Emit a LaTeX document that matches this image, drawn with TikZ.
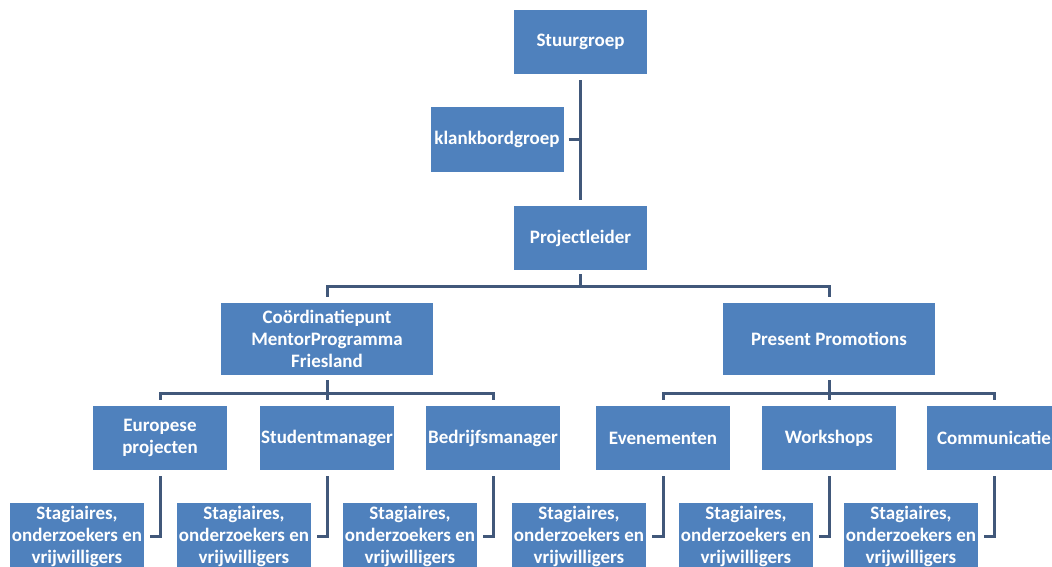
\documentclass[tikz,border=0pt]{standalone}
\usepackage{fontspec}
\setmainfont{Carlito}
\definecolor{boxblue}{HTML}{4F81BD}
\definecolor{linecol}{HTML}{41587A}
\begin{document}
\begin{tikzpicture}[x=1pt,y=-1pt,
  box/.style={rectangle, fill=boxblue, text=white, inner sep=0pt, align=center,
    font=\fontsize{19}{22}\selectfont\bfseries},
  b1/.style={box, minimum width=133pt, minimum height=64pt},
  b2/.style={box, minimum width=212pt, minimum height=72pt},
  b3/.style={box, minimum width=134pt, minimum height=64pt},
  b4/.style={box, minimum width=134pt, minimum height=66pt},
  conn/.style={draw=linecol, line width=3pt}]
\useasboundingbox (0,0) rectangle (1052,567);
\clip (0,0) rectangle (1052,567);
% level 1
\node[b1] (stuur) at (580.5,42) {Stuurgroep};
\node[b1,minimum height=65pt] (kb) at (497,139.5) {klankbordgroep};
\node[b1] (proj) at (580.5,238) {Projectleider};
% level 2
\node[b2] (coord) at (327,339) {Coördinatiepunt\\MentorProgramma\\Friesland};
\node[b2] (pp) at (829,339) {Present Promotions};
% level 3
\node[b3] (eu) at (160,438) {Europese\\projecten};
\node[b3] (sm) at (327,438) {Studentmanager};
\node[b3] (bm) at (493,438) {Bedrijfsmanager};
\node[b3] (ev) at (663,438) {Evenementen};
\node[b3] (ws) at (829,438) {Workshops};
\node[b3] (cm) at (994,438) {Communicatie};
% level 4
\node[b4] (s1) at (77,536) {Stagiaires,\\onderzoekers en\\vrijwilligers};
\node[b4] (s2) at (244,536) {Stagiaires,\\onderzoekers en\\vrijwilligers};
\node[b4] (s3) at (410,536) {Stagiaires,\\onderzoekers en\\vrijwilligers};
\node[b4] (s4) at (579,536) {Stagiaires,\\onderzoekers en\\vrijwilligers};
\node[b4] (s5) at (746,536) {Stagiaires,\\onderzoekers en\\vrijwilligers};
\node[b4] (s6) at (911,536) {Stagiaires,\\onderzoekers en\\vrijwilligers};
% bars
\coordinate (bar1) at (580.5,286);
\coordinate (bar2) at (327,393);
% connectors
\draw[conn] ([yshift=-6pt]stuur.south) -- ([yshift=6pt]proj.north);
\draw[conn] ([xshift=5pt]kb.east) -- (kb.east -| stuur.south);
\draw[conn] ([yshift=-4pt]proj.south) -- (proj.south |- bar1);
\draw[conn] ([yshift=6pt]coord.north) -- (coord.north |- bar1) -- (pp.north |- bar1) -- ([yshift=6pt]pp.north);
\draw[conn] ([yshift=-5pt]coord.south) -- (coord.south |- bar2);
\draw[conn] ([yshift=6pt]eu.north) -- (eu.north |- bar2) -- (bm.north |- bar2) -- ([yshift=6pt]bm.north);
\draw[conn] ([yshift=6pt]sm.north) -- (sm.north |- bar2);
\draw[conn] ([yshift=-5pt]pp.south) -- (pp.south |- bar2);
\draw[conn] ([yshift=6pt]ev.north) -- (ev.north |- bar2) -- (cm.north |- bar2) -- ([yshift=6pt]cm.north);
\draw[conn] ([yshift=6pt]ws.north) -- (ws.north |- bar2);
\draw[conn] ([yshift=-6pt]eu.south) |- ([xshift=6pt]s1.east);
\draw[conn] ([yshift=-6pt]sm.south) |- ([xshift=6pt]s2.east);
\draw[conn] ([yshift=-6pt]bm.south) |- ([xshift=6pt]s3.east);
\draw[conn] ([yshift=-6pt]ev.south) |- ([xshift=6pt]s4.east);
\draw[conn] ([yshift=-6pt]ws.south) |- ([xshift=6pt]s5.east);
\draw[conn] ([yshift=-6pt]cm.south) |- ([xshift=6pt]s6.east);
\end{tikzpicture}
\end{document}
